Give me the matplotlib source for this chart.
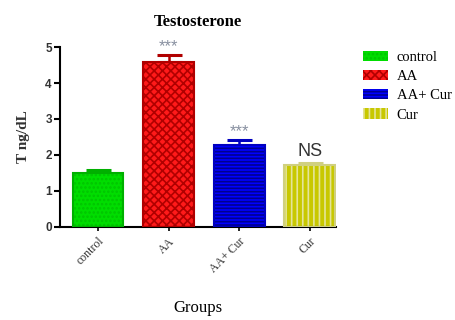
import matplotlib.pyplot as plt
from matplotlib.patches import Patch

# group means and upper error
groups = ["control", "AA", "AA+ Cur", "Cur"]
means = [1.49, 4.59, 2.28, 1.72]
errors = [0.10, 0.18, 0.14, 0.05]
marks = ["", "***", "***", "NS"]

fills = ["#00dd00", "#ff1a1a", "#0000ff", "#c8c800"]
hatch_cols = ["#00c400", "#b00000", "#000090", "#e4e49a"]
edges = ["#00b000", "#b00000", "#0000c0", "#d0d080"]
hatches = ["....", "xxxx", "-----", "|||"]

plt.rcParams['hatch.linewidth'] = 1.2
serif = ['Liberation Serif', 'DejaVu Serif']
sans = ['Liberation Sans', 'DejaVu Sans']

fig = plt.figure(figsize=(4.56, 3.2), dpi=100)
ax = fig.add_axes([0.132, 0.291, 0.605, 0.562])

x = list(range(len(groups)))
w = 0.72
# filled + hatched body, then the border on top
ax.bar(x, means, w, color=fills, edgecolor=hatch_cols, hatch=hatches, linewidth=0, zorder=2)
ax.bar(x, means, w, fill=False, edgecolor=edges, linewidth=1.5, zorder=3)
for i in x:
    ax.errorbar(i, means[i], yerr=[[0], [errors[i]]], fmt='none', ecolor=edges[i],
                elinewidth=1.8, capsize=9, capthick=2.2, zorder=1)
    if marks[i] == "NS":
        ax.text(i, means[i] + errors[i] + 0.1, marks[i], ha='center', va='bottom',
                fontsize=13, color='#333333', family=sans)
    elif marks[i]:
        ax.text(i, means[i] + errors[i] + 0.02, marks[i], ha='center', va='bottom',
                fontsize=12, color='#8890a0', family=sans)

ax.set_xlim(-0.535, 3.37)
ax.set_ylim(0, 5)
ax.set_yticks([0, 1, 2, 3, 4, 5])
ax.set_xticks(x)
ax.set_xticklabels(groups, rotation=45, ha='right', rotation_mode='anchor',
                   family=serif, fontsize=8.5, color='#333333')
for lab in ax.get_yticklabels():
    lab.set_family(sans)
    lab.set_fontweight('bold')
    lab.set_fontsize(8.5)
    lab.set_color('#333333')
ax.spines['top'].set_visible(False)
ax.spines['right'].set_visible(False)
ax.spines['left'].set_linewidth(1.5)
ax.spines['bottom'].set_linewidth(1.5)
ax.tick_params(axis='y', length=4, width=1.5, pad=2)
ax.tick_params(axis='x', length=3, width=1.2, pad=3)

ax.set_title("Testosterone", family=serif, fontweight='bold', fontsize=12, pad=15)
ax.set_ylabel("T ng/dL", family=serif, fontweight='bold', fontsize=11, labelpad=11,
              color='#333333')
ax.set_xlabel("Groups", family=serif, fontsize=12, labelpad=18)

handles = [Patch(facecolor=fills[i], edgecolor=hatch_cols[i], hatch=hatches[i], linewidth=0)
           for i in x]
fig.legend(handles, groups, loc='upper left', bbox_to_anchor=(0.796, 0.84), frameon=False,
           prop={'family': serif, 'size': 10.5}, handlelength=1.7, handleheight=0.7,
           labelspacing=0.4, handletextpad=0.6, borderaxespad=0, borderpad=0)

fig.savefig("out.png", dpi=100)
